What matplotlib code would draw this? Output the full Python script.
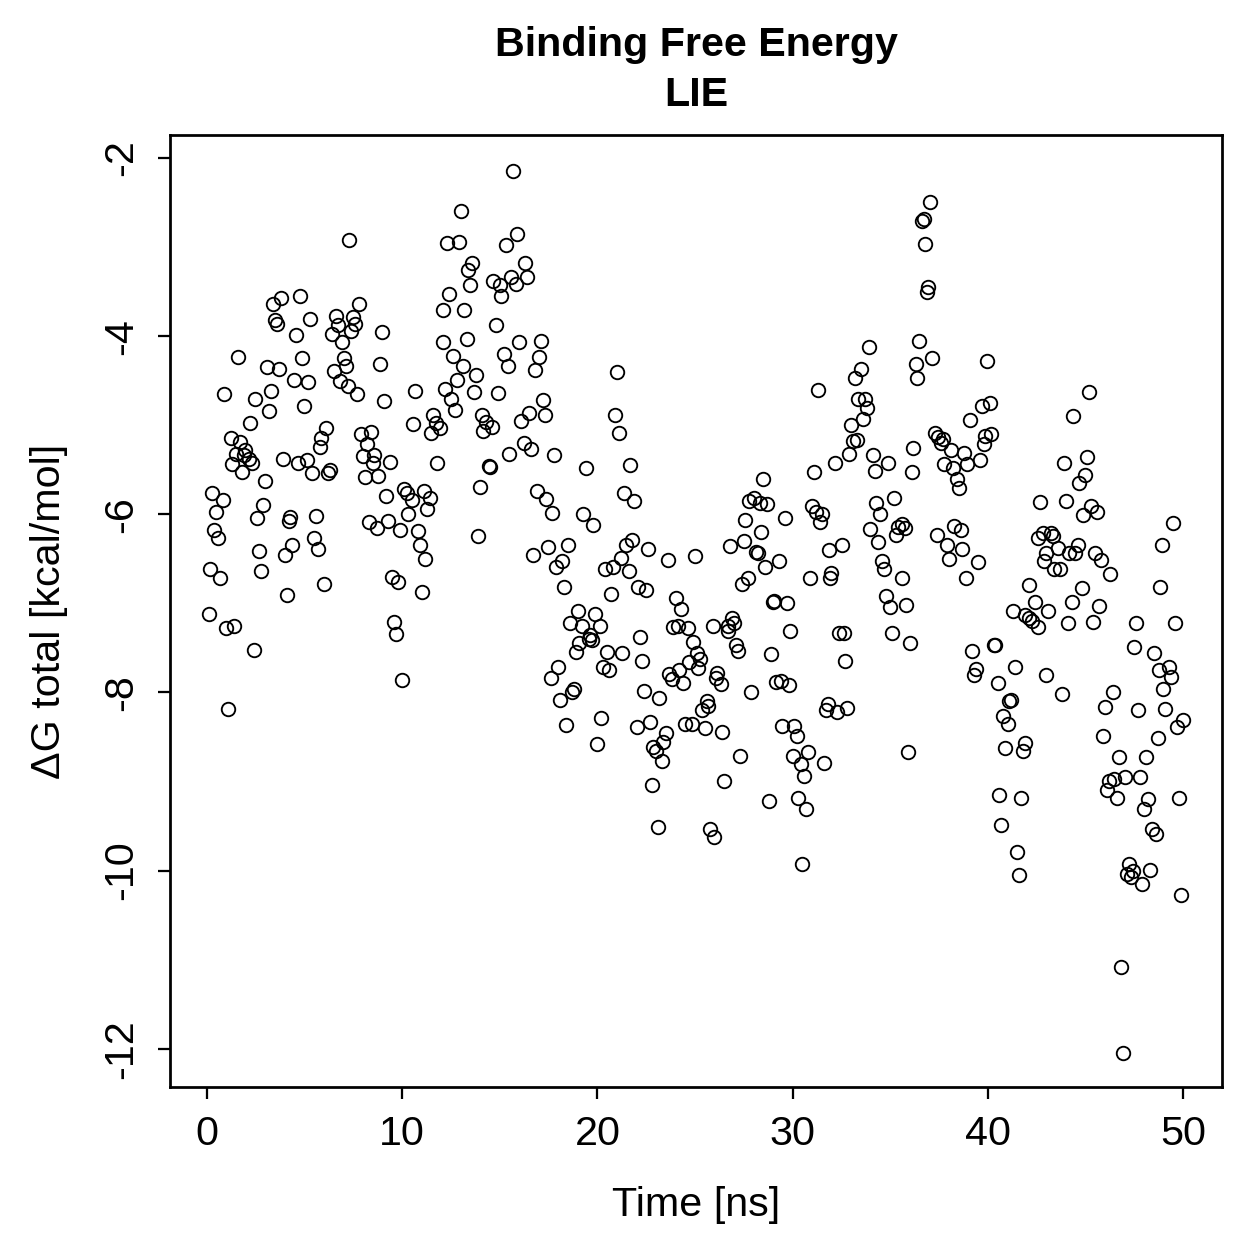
import numpy as np
import matplotlib
matplotlib.use("Agg")
import matplotlib.pyplot as plt

# time [ns] and dG total [kcal/mol]
t_a = [7.27,3.79,3.38,4.78,3.48,3.57,5.28,4.58,7.77,6.59,6.69,7.50,7.60,7.38,6.39,6.90,8.98,1.57,3.07,3.69,
       4.87,7.00,7.10,6.49,8.88,4.47,5.19,6.80,7.21,7.68,0.89,2.48,3.28,3.18,4.99,9.07,10.67,2.19,6.08,5.86,
       5.79,7.87,8.40,8.20,1.20,1.69,1.95,1.47,1.91,2.17,2.32,1.26,3.88,4.68,5.11,5.36,6.30,8.01,8.57,8.49,
       9.39,10.57,11.58,11.71,11.92,11.47,11.78,
       1.78,6.18,8.09,8.78,2.97,0.27,0.79,0.48,0.36,0.58,2.89,2.58,4.27,4.18,5.58,5.48,5.69,4.37,3.98,2.68,
       2.78,0.17,0.68,6.00,4.08,0.09,0.97,1.40,2.39,1.08,9.19,10.11,10.26,10.48,11.10,11.42,11.29,10.28,8.30,
       8.69,9.29,9.89,10.79,10.91,11.18,9.49,9.80,11.00,9.60,9.70,9.99]
dg_a = [-2.92,-3.57,-3.64,-3.55,-3.82,-3.86,-3.81,-3.99,-3.64,-3.77,-3.87,-3.78,-3.86,-3.94,-3.98,-4.07,-3.95,-4.23,-4.35,-4.37,
        -4.25,-4.24,-4.33,-4.39,-4.31,-4.49,-4.51,-4.50,-4.56,-4.65,-4.65,-4.71,-4.62,-4.84,-4.78,-4.73,-4.62,-4.97,-5.03,-5.14,
        -5.24,-5.10,-5.08,-5.21,-5.14,-5.19,-5.28,-5.32,-5.34,-5.38,-5.43,-5.44,-5.38,-5.43,-5.39,-5.54,-5.50,-5.35,-5.34,-5.43,
        -5.41,-4.99,-4.89,-4.97,-5.03,-5.09,-5.43,
        -5.52,-5.54,-5.58,-5.57,-5.63,-5.76,-5.84,-5.98,-6.18,-6.27,-5.90,-6.04,-6.03,-6.08,-6.02,-6.27,-6.39,-6.35,-6.46,-6.41,
        -6.64,-6.61,-6.71,-6.78,-6.91,-7.12,-7.28,-7.25,-7.52,-8.19,-5.79,-5.72,-5.76,-5.84,-5.74,-5.82,-5.94,-6.00,-6.09,
        -6.15,-6.07,-6.18,-6.19,-6.34,-6.50,-6.70,-6.76,-6.87,-7.21,-7.34,-7.86]

t_b = [15.69,13.00,12.28,12.89,15.90,15.29,13.59,13.39,13.47,14.67,15.01,15.59,15.81,16.31,16.41,15.08,12.40,12.11,13.18,14.79,
       12.07,13.30,15.98,17.09,12.59,13.10,15.20,15.40,16.99,16.80,12.79,12.19,13.78,13.70,14.89,12.48,12.69,17.20,20.99,16.50,
       16.09,17.30,20.90,21.09,14.09,14.29,14.58,14.16,16.22,16.60,15.49,17.79,14.43,14.47,19.40,21.69,
       13.99,13.90,16.89,17.37,17.69,19.28,19.79,21.38,21.89,16.69,17.49,18.50,17.90,18.20,18.29,21.46,21.79,21.19,20.39,20.80,
       21.60,22.61,23.60,20.68,22.08,22.49,24.00,24.30,19.00,19.89,18.58,19.21,20.12,19.64,19.57,19.72,19.08,18.90,22.18,20.51,
       21.28,22.27,17.99,17.60,20.27,20.61,18.80,18.72,18.10,22.39,23.17,18.39,20.20,20.00,22.01,22.69,23.50,23.38,22.87,23.00,
       23.29,23.89,24.13,23.69,23.81,24.20,24.40,22.80,23.10]
dg_b = [-2.15,-2.59,-2.96,-2.94,-2.85,-2.98,-3.18,-3.26,-3.43,-3.38,-3.43,-3.34,-3.41,-3.18,-3.34,-3.55,-3.53,-3.71,-3.71,-3.88,
        -4.07,-4.03,-4.07,-4.06,-4.22,-4.33,-4.20,-4.34,-4.23,-4.38,-4.49,-4.59,-4.44,-4.63,-4.64,-4.71,-4.83,-4.72,-4.40,-4.86,
        -4.95,-4.88,-4.88,-5.09,-4.88,-4.96,-5.02,-5.07,-5.20,-5.27,-5.32,-5.34,-5.46,-5.47,-5.48,-5.45,
        -5.69,-6.24,-5.74,-5.83,-5.99,-6.00,-6.12,-5.76,-5.85,-6.46,-6.37,-6.34,-6.59,-6.53,-6.82,-6.34,-6.29,-6.49,-6.61,-6.59,
        -6.64,-6.39,-6.51,-6.90,-6.82,-6.85,-6.94,-7.06,-7.09,-7.12,-7.22,-7.25,-7.25,-7.35,-7.40,-7.41,-7.45,-7.55,-7.38,-7.55,
        -7.56,-7.65,-7.72,-7.84,-7.71,-7.75,-7.96,-7.99,-8.08,-7.98,-8.06,-8.37,-8.29,-8.58,-8.39,-8.33,-8.46,-8.56,-8.61,-8.66,
        -8.77,-7.27,-7.26,-7.79,-7.85,-7.75,-7.89,-9.04,-9.51]

t_c = [37.06,36.61,36.73,36.78,36.95,36.90,36.49,37.12,33.90,33.49,33.20,36.30,36.39,31.30,33.37,33.71,33.81,33.61,33.00,33.11,
       33.32,32.89,34.10,32.19,34.89,31.10,34.22,36.10,36.19,
       28.48,27.78,28.04,28.33,28.70,27.58,28.38,29.59,26.79,27.49,28.13,28.21,29.29,28.60,24.99,27.70,27.41,30.98,31.20,31.49,
       31.39,31.88,32.51,30.89,31.99,31.89,34.27,35.19,34.49,33.98,34.39,35.31,35.42,35.59,35.76,34.60,34.70,35.61,34.79,35.01,
       35.79,35.11,36.00,29.06,28.98,29.70,29.89,32.39,32.63,32.69,28.89,29.15,29.41,29.82,27.89,24.66,24.91,25.09,25.26,25.17,
       24.69,25.90,26.67,26.88,26.99,26.71,27.08,27.19,26.14,26.06,26.33,25.60,25.68,25.38,24.49,24.83,25.51,26.38,27.29,29.47,
       30.09,30.21,31.79,31.71,32.27,32.80,30.00,30.41,30.81,31.59,35.89,
       26.50,30.59,28.79,30.29,30.69,25.78,25.99,30.50]
dg_c = [-2.49,-2.71,-2.69,-2.97,-3.45,-3.50,-4.06,-4.24,-4.12,-4.37,-4.47,-4.31,-4.47,-4.61,-4.71,-4.71,-4.81,-4.93,-5.00,-5.18,
        -5.17,-5.32,-5.33,-5.43,-5.43,-5.52,-5.51,-5.53,-5.26,
        -5.60,-5.85,-5.82,-5.87,-5.89,-6.06,-6.20,-6.04,-6.36,-6.30,-6.42,-6.43,-6.52,-6.59,-6.47,-6.72,-6.78,-5.91,-5.98,-6.00,
        -6.09,-6.40,-6.34,-6.71,-6.66,-6.72,-5.87,-5.82,-6.00,-6.17,-6.31,-6.23,-6.14,-6.11,-6.15,-6.53,-6.61,-6.72,-6.92,-7.04,
        -7.02,-7.33,-7.44,-6.97,-6.99,-7.00,-7.31,-7.33,-7.33,-7.65,-7.57,-7.88,-7.87,-7.92,-8.00,-7.28,-7.43,-7.56,-7.63,-7.73,
        -7.66,-7.26,-7.25,-7.16,-7.22,-7.31,-7.47,-7.54,-7.78,-7.84,-7.91,-8.10,-8.15,-8.20,-8.35,-8.36,-8.40,-8.45,-8.71,-8.38,
        -8.38,-8.49,-8.13,-8.20,-8.22,-8.18,-8.71,-8.80,-8.67,-8.79,-8.67,
        -8.99,-8.94,-9.22,-9.19,-9.31,-9.53,-9.62,-9.93]

t_d = [39.98,45.20,44.38,39.69,40.11,39.11,37.30,37.47,37.69,37.59,38.11,38.78,39.86,40.19,39.79,39.60,38.93,37.77,38.24,43.90,
       45.10,
       38.41,38.51,44.98,44.69,42.69,43.99,45.30,45.61,44.88,49.50,48.91,38.27,38.63,37.41,37.89,38.68,37.99,39.52,38.88,42.59,
       42.85,43.22,43.33,43.60,42.99,44.61,44.49,44.18,45.48,45.80,42.90,43.41,43.72,46.28,42.10,44.81,48.80,44.32,45.71,42.42,
       41.31,43.10,41.92,42.10,42.26,42.59,44.11,45.39,47.61,49.61,47.51,48.50,49.30,48.79,49.40,48.99,49.10,47.70,46.40,45.99,
       50.02,49.71,48.70,45.90,46.71,48.09,39.19,40.32,40.39,39.40,39.31,41.41,40.50,42.98,43.80,41.10,41.20,40.79,41.02,40.90,
       41.91,41.82,
       40.59,41.70,40.70,41.50,41.60,46.23,46.47,46.09,47.01,47.79,46.60,48.22,48.00,49.81,48.41,48.62,47.22,47.42,47.12,47.32,
       48.31,47.90,49.91,46.81,46.91]
dg_d = [-4.28,-4.63,-4.90,-4.78,-4.75,-4.94,-5.09,-5.13,-5.15,-5.20,-5.28,-5.31,-5.12,-5.10,-5.21,-5.39,-5.44,-5.44,-5.48,-5.43,
        -5.36,
        -5.60,-5.71,-5.56,-5.65,-5.86,-5.85,-5.91,-5.98,-6.01,-6.10,-6.34,-6.13,-6.18,-6.23,-6.35,-6.39,-6.50,-6.54,-6.71,-6.27,
        -6.21,-6.21,-6.24,-6.38,-6.44,-6.34,-6.43,-6.44,-6.44,-6.51,-6.53,-6.61,-6.62,-6.67,-6.79,-6.83,-6.82,-6.98,-7.03,-6.99,
        -7.09,-7.09,-7.13,-7.16,-7.20,-7.27,-7.22,-7.21,-7.22,-7.22,-7.49,-7.56,-7.71,-7.75,-7.83,-7.96,-8.19,-8.20,-8.00,-8.16,
        -8.31,-8.39,-8.51,-8.49,-8.73,-8.73,-7.53,-7.47,-7.47,-7.74,-7.80,-7.71,-7.89,-7.81,-8.02,-8.10,-8.08,-8.27,-8.35,-8.62,
        -8.57,-8.66,
        -9.15,-9.19,-9.49,-9.79,-10.05,-9.00,-8.97,-9.09,-8.95,-8.95,-9.19,-9.20,-9.31,-9.19,-9.53,-9.59,-9.93,-10.01,-10.04,-10.07,
        -9.99,-10.15,-10.28,-11.08,-12.05]

time_ns = np.array(t_a + t_b + t_c + t_d)
dg_total = np.array(dg_a + dg_b + dg_c + dg_d)

x_ticks = [0, 10, 20, 30, 40, 50]
y_ticks = [-2, -4, -6, -8, -10, -12]

plt.rcParams['font.family'] = ['Liberation Sans', 'DejaVu Sans']
plt.rcParams['axes.unicode_minus'] = False

W = 1259
fs = 16.5
fig = plt.figure(figsize=(W / 180, W / 180), dpi=180)
ax = fig.add_axes([170 / W, 1 - 1087 / W, (1222 - 170) / W, (1087 - 135) / W])

ax.plot(time_ns, dg_total, 'o', mfc='none', mec='black', mew=0.75, ms=5.4)

ax.set_xlim(-1.9, 52.0)
ax.set_ylim(-12.43, -1.742)
ax.set_xticks(x_ticks)
ax.set_yticks(y_ticks)
ax.set_yticklabels([str(v) for v in y_ticks], rotation=90, va='center')
for s in ax.spines.values():
    s.set_linewidth(1.1)
ax.tick_params(direction='out', length=4.8, width=0.9, labelsize=fs)
ax.tick_params(axis='x', pad=6.5)
ax.tick_params(axis='y', pad=7)

ax.set_xlabel('Time [ns]', fontsize=fs, labelpad=13)
ax.set_ylabel('ΔG total [kcal/mol]', fontsize=fs, labelpad=14)

fig.text(696 / W, 1 - 45 / W, 'Binding Free Energy', ha='center', va='center',
         fontsize=fs, fontweight='bold')
fig.text(696 / W, 1 - 95 / W, 'LIE', ha='center', va='center',
         fontsize=fs, fontweight='bold')

fig.savefig('out.png', dpi=180)
